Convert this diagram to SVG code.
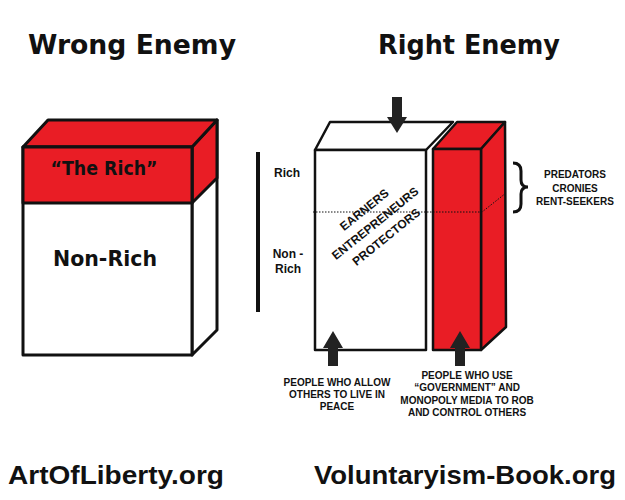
<svg xmlns="http://www.w3.org/2000/svg" width="625" height="500" viewBox="0 0 625 500">
<style>
.title{font-family:"DejaVu Sans",sans-serif;font-weight:bold;font-size:26px;fill:#111}
.foot{font-family:"Liberation Sans",Arial,sans-serif;font-weight:bold;font-size:25px;fill:#111}
.big{font-family:"DejaVu Sans",sans-serif;font-weight:bold;fill:#111}
.lab{font-family:"Liberation Sans",Arial,sans-serif;font-weight:bold;font-size:10px;fill:#111;text-anchor:middle}
.lab12{font-family:"Liberation Sans",Arial,sans-serif;font-weight:bold;font-size:12px;fill:#111}
.ol{stroke:#111;stroke-width:3;stroke-linejoin:round}
.ol2{stroke:#111;stroke-width:2.5;stroke-linejoin:round}
.red{fill:#e91d25}
.wh{fill:#fff}
.arrow{fill:#222}
.dot{stroke:#111;stroke-width:1;stroke-dasharray:1.5 1.5;fill:none}
</style>
<rect width="625" height="500" fill="#fff"/>

<g id="titles">
<text class="title" x="28" y="54" textLength="208" lengthAdjust="spacingAndGlyphs">Wrong Enemy</text>
<text class="title" x="378" y="54" textLength="182" lengthAdjust="spacingAndGlyphs">Right Enemy</text>
</g>

<g id="wrong-box">
<polygon class="wh ol" points="192,147 217,120 217,330 192,355"/>
<polygon class="red ol" points="192,147 217,120 217,178 192,203"/>
<polygon class="red ol" points="23,147 48,120 217,120 192,147"/>
<rect class="wh ol" x="23" y="147" width="169" height="208"/>
<rect class="red ol" x="23" y="147" width="169" height="56"/>
<text class="big" x="104" y="175" font-size="20" text-anchor="middle" textLength="107" lengthAdjust="spacingAndGlyphs">“The Rich”</text>
<text class="big" x="105" y="266" font-size="22" text-anchor="middle" textLength="104" lengthAdjust="spacingAndGlyphs">Non-Rich</text>
</g>

<g id="scale">
<rect x="256" y="152" width="4" height="160" fill="#111"/>
<text class="lab12" x="287" y="177" text-anchor="middle">Rich</text>
<text class="lab12" x="288" y="258" text-anchor="middle">Non -</text>
<text class="lab12" x="288" y="273" text-anchor="middle">Rich</text>
</g>

<g id="earners-box">
<polygon class="wh ol2" points="315,150 330,122 453,122 426,150"/>
<rect class="wh ol2" x="315" y="150" width="111" height="200"/>
<g transform="translate(375,223) rotate(-39)">
<text class="lab12" x="0" y="-13" font-size="12.5" text-anchor="middle">EARNERS</text>
<text class="lab12" x="0" y="4.5" font-size="12.5" text-anchor="middle">ENTREPRENEURS</text>
<text class="lab12" x="0" y="22" font-size="12.5" text-anchor="middle">PROTECTORS</text>
</g>
</g>

<g id="predators-column">
<polygon class="red ol2" points="433,149 457,122 505,122 481,149"/>
<polygon class="red ol2" points="481,149 505,122 506,327 481,350"/>
<rect class="red ol2" x="433" y="149" width="48" height="201"/>
</g>

<g id="connectors">
<path class="dot" d="M313,212 H482 L506,193"/>
<path class="arrow" d="M392,97 H402 V117 H407 L397,133 L387,117 H392 Z"/>
<path class="arrow" d="M333,331 L343,348 H338 V366 H328 V348 H323 Z"/>
<path class="arrow" d="M460,331 L470,348 H465 V366 H455 V348 H450 Z"/>
<path d="M513,163 Q521,163 521,171 L521,180 Q521,187 528,187 Q521,187 521,194 L521,204 Q521,212 513,212" fill="none" stroke="#111" stroke-width="3"/>
</g>

<g id="predators-label">
<text class="lab" x="575" y="178">PREDATORS</text>
<text class="lab" x="575" y="192">CRONIES</text>
<text class="lab" x="575" y="205">RENT-SEEKERS</text>
</g>

<g id="allow-label">
<text class="lab" x="337" y="386">PEOPLE WHO ALLOW</text>
<text class="lab" x="337" y="398">OTHERS TO LIVE IN</text>
<text class="lab" x="337" y="410">PEACE</text>
</g>

<g id="use-label">
<text class="lab" x="467" y="379">PEOPLE WHO USE</text>
<text class="lab" x="467" y="391">“GOVERNMENT” AND</text>
<text class="lab" x="467" y="404">MONOPOLY MEDIA TO ROB</text>
<text class="lab" x="467" y="416">AND CONTROL OTHERS</text>
</g>

<g id="footer">
<text class="foot" x="8" y="484" textLength="216" lengthAdjust="spacingAndGlyphs">ArtOfLiberty.org</text>
<text class="foot" x="314" y="484" textLength="302" lengthAdjust="spacingAndGlyphs">Voluntaryism-Book.org</text>
</g>
</svg>
